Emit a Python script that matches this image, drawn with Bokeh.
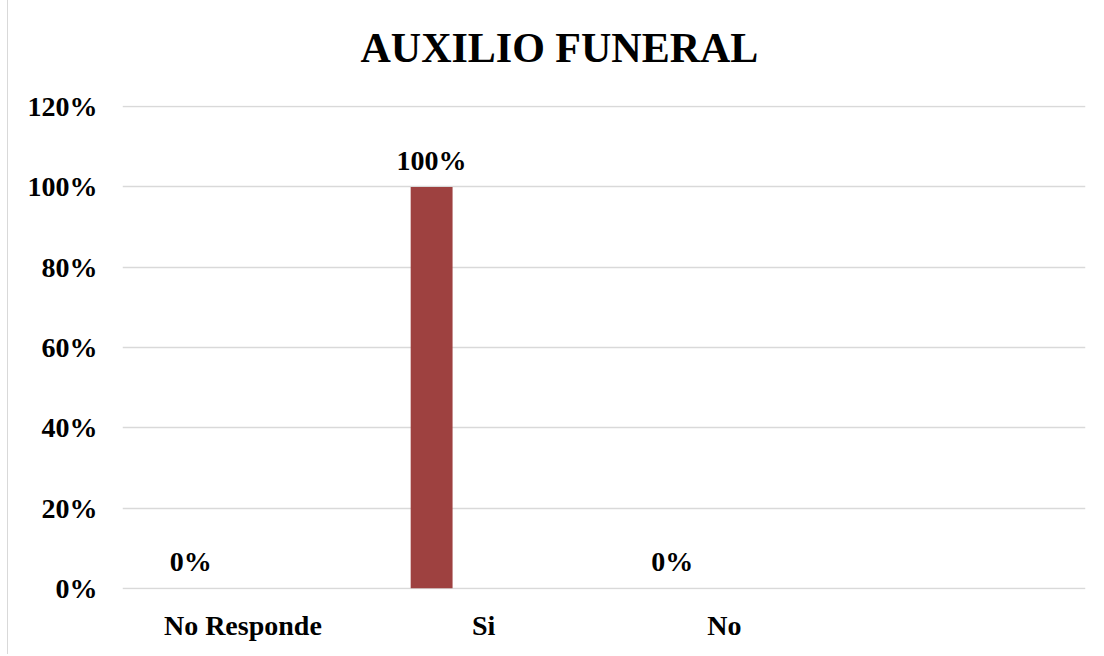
from bokeh.plotting import figure
from bokeh.models import ColumnDataSource, FactorRange, LabelSet, NumeralTickFormatter, FixedTicker, Range1d
from bokeh.transform import dodge
from bokeh.embed import file_html
from bokeh.resources import INLINE

categories = ["No Responde", "Si", "No", " "]
bar_cats = ["No Responde", "Si", "No"]
values = [0.0, 1.0, 0.0]
labels = ["0%", "100%", "0%"]
y_ticks = [0, 0.2, 0.4, 0.6, 0.8, 1.0, 1.2]
title_text = "AUXILIO FUNERAL"

FONT = "Liberation Serif"
BAR_COLOR = "#9E4140"
GRID = "#d9d9d9"

src = ColumnDataSource(data=dict(cat=bar_cats, val=values, lab=labels))

p = figure(
    x_range=FactorRange(factors=categories, range_padding=0),
    y_range=Range1d(-0.003, 1.203),
    width=1094, height=668,
    output_backend="svg", toolbar_location=None,
    min_border_left=114, min_border_right=17, min_border_top=119, min_border_bottom=65,
    styles={"border-left": "1px solid #d9d9d9",
            "margin-left": "7px", "margin-top": "-14px"},
)

p.vbar(x=dodge("cat", -0.216, range=p.x_range), top="val", width=0.174,
       source=src, fill_color=BAR_COLOR, line_color=None)

lbl = LabelSet(x=dodge("cat", -0.216, range=p.x_range), y="val", text="lab", source=src,
               y_offset=17, text_align="center", text_baseline="alphabetic",
               text_font=FONT, text_font_style="bold", text_font_size="28px",
               text_color="black")
p.add_layout(lbl)

p.title.text = title_text
p.title.text_font = FONT
p.title.text_font_style = "bold"
p.title.text_font_size = "42px"
p.title.align = "left"
p.title.offset = 238
p.title.standoff = 70
p.title.text_color = "black"

p.outline_line_color = None
p.xgrid.grid_line_color = None
p.ygrid.grid_line_color = GRID
p.ygrid.grid_line_width = 1.5
p.yaxis.ticker = FixedTicker(ticks=y_ticks)
p.yaxis.formatter = NumeralTickFormatter(format="0%")

for ax in (p.xaxis, p.yaxis):
    ax.axis_line_color = None
    ax.major_tick_line_color = None
    ax.minor_tick_line_color = None
    ax.major_tick_out = 0
    ax.major_tick_in = 0
    ax.major_label_text_font = FONT
    ax.major_label_text_font_style = "bold"
    ax.major_label_text_font_size = "28px"
    ax.major_label_text_color = "black"

p.yaxis.major_label_standoff = 25
p.xaxis.major_label_standoff = 20

open("out.html", "w").write(file_html(p, INLINE))
